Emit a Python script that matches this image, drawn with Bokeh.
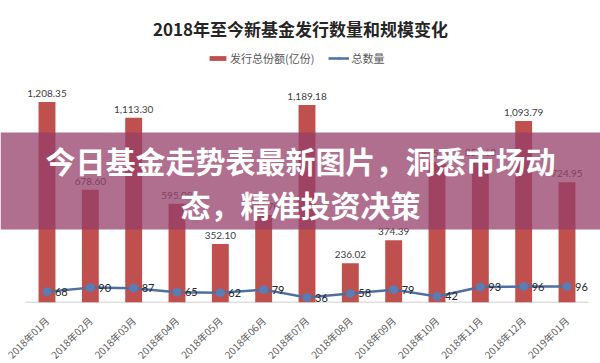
from bokeh.plotting import figure
from bokeh.models import (ColumnDataSource, Range1d, LabelSet, Label, FixedTicker,
                          BoxAnnotation, Legend, LegendItem)
from bokeh.core.properties import value
from bokeh.embed import file_html
from bokeh.resources import INLINE
import math

# ---- data ----
months = ["2018年01月", "2018年02月", "2018年03月", "2018年04月", "2018年05月",
          "2018年06月", "2018年07月", "2018年08月", "2018年09月", "2018年10月",
          "2018年11月", "2018年12月", "2019年01月"]
shares = [1208.35, 678.60, 1113.30, 595.08, 352.10, 527.70, 1189.18,
          236.02, 374.39, 845.14, 854.68, 1093.79, 724.95]
counts = [68, 90, 87, 65, 62, 79, 36, 58, 79, 42, 93, 96, 96]

title_text = "2018年至今新基金发行数量和规模变化"
bar_name = "发行总份额(亿份)"
line_name = "总数量"
banner_lines = ["今日基金走势表最新图片，洞悉市场动", "态，精准投资决策"]

CJK = "Noto Sans CJK SC"
NUM = "Lato"

n = len(months)
xs = [i + 0.5 for i in range(n)]
src = ColumnDataSource(dict(
    x=xs, s=shares, c=counts,
    s_lab=[f"{v:,.2f}" for v in shares],
    c_lab=[str(v) for v in counts],
))

p = figure(frame_width=600, frame_height=302,
           x_range=Range1d(-0.573, n + 0.273),
           y_range=Range1d(0, 1819), y_axis_location=None,
           toolbar_location=None, output_backend="svg",
           min_border_left=0, min_border_right=0,
           min_border_top=0, min_border_bottom=0)
p.extra_y_ranges = {"cnt": Range1d(8.7, 1659)}
p.outline_line_color = None
p.xgrid.visible = False
p.ygrid.visible = False

# axis baseline across the category slots
p.segment(x0=[0], y0=[0], x1=[n], y1=[0], line_color="#bfbfbf", line_width=1.5)

bars = p.vbar(x="x", top="s", width=0.39, source=src,
              fill_color="#c0504d", line_color=None)
ln = p.line(x="x", y="c", source=src, y_range_name="cnt",
            line_color="#4f6f9f", line_width=2.5)
mk = p.scatter(x="x", y="c", source=src, y_range_name="cnt", size=8,
               fill_color="#5b7db3", line_color="#5b7db3")

ax = p.xaxis[0]
ax.ticker = FixedTicker(ticks=xs)
ax.major_label_overrides = {x: m for x, m in zip(xs, months)}
ax.major_tick_line_color = None
ax.minor_tick_line_color = None
ax.axis_line_color = None
ax.major_label_orientation = math.pi / 4
ax.major_label_text_font = CJK
ax.major_label_text_font_size = "10px"
ax.major_label_text_color = "#595959"
ax.major_label_standoff = 10

p.add_layout(LabelSet(x="x", y="s", text="s_lab", source=src, y_offset=5,
                      text_align="center", text_baseline="bottom",
                      text_font=value(NUM), text_font_size=value("10px"),
                      text_color="#404040"))
p.add_layout(LabelSet(x="x", y="c", text="c_lab", source=src, y_range_name="cnt",
                      x_offset=8, text_align="left", text_baseline="middle",
                      text_font=value(NUM), text_font_size=value("11px"),
                      text_color="#262626"))

legend = Legend(items=[LegendItem(label=bar_name, renderers=[bars]),
                       LegendItem(label=line_name, renderers=[ln, mk])],
                orientation="horizontal", location=(207, 236),
                border_line_color=None, background_fill_alpha=0,
                padding=0, margin=0, spacing=14,
                glyph_width=21, glyph_height=6, label_standoff=2,
                label_text_font=CJK, label_text_font_size="11px",
                label_text_color="#595959", label_height=12)
p.add_layout(legend, "center")

p.add_layout(Label(x=300, y=274, x_units="screen", y_units="screen",
                   text=title_text, text_align="center", text_baseline="middle",
                   text_font=CJK, text_font_style="bold", text_font_size="17px",
                   text_color="#262626"))

p.add_layout(BoxAnnotation(bottom=73, top=170,
                           bottom_units="screen", top_units="screen",
                           fill_color=(149, 63, 106), fill_alpha=0.75,
                           line_alpha=0, level="overlay"))

for txt, yy in zip(banner_lines, [143, 99]):
    p.add_layout(Label(x=300, y=yy, x_units="screen", y_units="screen",
                       text=txt, text_align="center", text_baseline="middle",
                       text_font=CJK, text_font_style="bold", text_font_size="30px",
                       text_color="white", level="overlay"))

open("out.html", "w").write(file_html(p, INLINE))
